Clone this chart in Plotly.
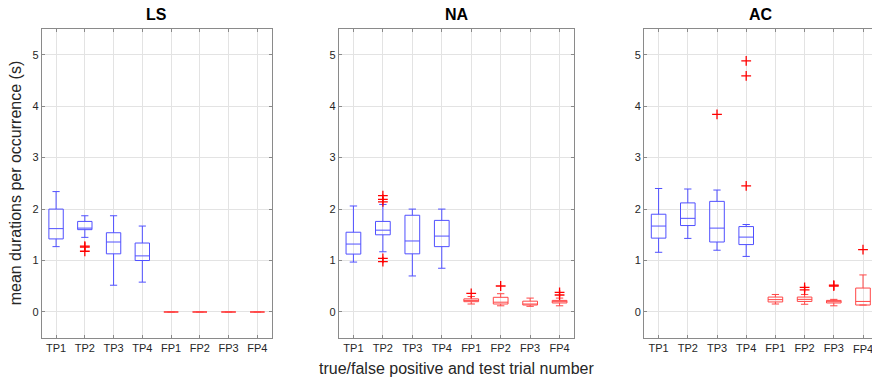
import plotly.graph_objects as go

CATEGORIES = ["TP1", "TP2", "TP3", "TP4", "FP1", "FP2", "FP3", "FP4"]
POSITIONS = [1, 2, 3, 4, 5, 6, 7, 8]
PANELS = ["LS", "NA", "AC"]

# LS panel statistics
LS_LOWER = [1.27, 1.45, 0.52, 0.58, 0.0, 0.0, 0.0, 0.0]
LS_Q1 = [1.42, 1.60, 1.13, 1.00, 0.0, 0.0, 0.0, 0.0]
LS_MEDIAN = [1.62, 1.63, 1.36, 1.09, 0.0, 0.0, 0.0, 0.0]
LS_Q3 = [2.00, 1.76, 1.54, 1.34, 0.0, 0.0, 0.0, 0.0]
LS_UPPER = [2.34, 1.87, 1.87, 1.67, 0.0, 0.0, 0.0, 0.0]
LS_OUT_X = ["TP2", "TP2", "TP2"]
LS_OUT_Y = [1.28, 1.26, 1.18]

# NA panel statistics
NA_LOWER = [0.97, 1.17, 0.70, 0.85, 0.155, 0.12, 0.11, 0.12]
NA_Q1 = [1.125, 1.50, 1.13, 1.27, 0.20, 0.155, 0.135, 0.175]
NA_MEDIAN = [1.32, 1.59, 1.38, 1.475, 0.225, 0.19, 0.15, 0.20]
NA_Q3 = [1.55, 1.76, 1.88, 1.78, 0.255, 0.285, 0.21, 0.225]
NA_UPPER = [2.06, 2.09, 2.00, 2.00, 0.30, 0.355, 0.27, 0.27]
NA_OUT_X = ["TP2", "TP2", "TP2", "TP2", "TP2", "FP1", "FP2", "FP4", "FP4"]
NA_OUT_Y = [2.26, 2.19, 2.14, 1.04, 0.98, 0.36, 0.505, 0.38, 0.33]

# AC panel statistics
AC_LOWER = [1.16, 1.43, 1.20, 1.08, 0.155, 0.15, 0.12, 0.135]
AC_Q1 = [1.435, 1.68, 1.36, 1.31, 0.195, 0.205, 0.175, 0.135]
AC_MEDIAN = [1.67, 1.82, 1.63, 1.455, 0.24, 0.245, 0.20, 0.205]
AC_Q3 = [1.90, 2.12, 2.15, 1.66, 0.29, 0.29, 0.225, 0.465]
AC_UPPER = [2.40, 2.39, 2.37, 1.70, 0.34, 0.34, 0.245, 0.72]
AC_OUT_X = ["TP3", "TP4", "TP4", "TP4", "FP2", "FP2", "FP3", "FP3", "FP4"]
AC_OUT_Y = [3.84, 4.88, 4.59, 2.45, 0.48, 0.43, 0.52, 0.505, 1.21]

Y_TICKS = [0, 1, 2, 3, 4, 5]
TITLE_Y = "mean durations per occurrence (s)"
TITLE_X = "true/false positive and test trial number"

stats = {
    "LS": (LS_LOWER, LS_Q1, LS_MEDIAN, LS_Q3, LS_UPPER, LS_OUT_X, LS_OUT_Y),
    "NA": (NA_LOWER, NA_Q1, NA_MEDIAN, NA_Q3, NA_UPPER, NA_OUT_X, NA_OUT_Y),
    "AC": (AC_LOWER, AC_Q1, AC_MEDIAN, AC_Q3, AC_UPPER, AC_OUT_X, AC_OUT_Y),
}

# The original figure is wider than the 872 px crop: the AC panel runs past the edge.
W, H = 880, 380
BLUE = "rgb(80,80,255)"
RED = "rgb(255,70,70)"
OUT_RED = "rgb(255,0,0)"
AXIS_COL = "#8a8a8a"
GRID_COL = "#e3e3e3"
TEXT_COL = "#262626"
FONT = "Liberation Sans, Arial, Helvetica, sans-serif"

# panel pixel geometry (left, right)
panel_px = [(41.7, 271.7), (338.7, 574.3), (644.0, 877.6)]
top_px, bot_px = 29.0, 337.7

fig = go.Figure()
layout = dict(
    width=W, height=H,
    margin=dict(l=0, r=0, t=0, b=0),
    paper_bgcolor="white", plot_bgcolor="white",
    showlegend=False,
    font=dict(family=FONT, color=TEXT_COL, size=11),
    boxmode="overlay",
)
annotations = []

for i, name in enumerate(PANELS):
    lo, q1, med, q3, up, ox, oy = stats[name]
    xa = "x" if i == 0 else f"x{i+1}"
    ya = "y" if i == 0 else f"y{i+1}"
    for sl, col in ((slice(0, 4), BLUE), (slice(4, 8), RED)):
        fig.add_trace(go.Box(
            x=POSITIONS[sl], q1=q1[sl], median=med[sl], q3=q3[sl],
            lowerfence=lo[sl], upperfence=up[sl],
            boxpoints=False, width=0.5, whiskerwidth=0.5,
            line=dict(color=col, width=1), fillcolor="rgba(0,0,0,0)",
            xaxis=xa, yaxis=ya, hoverinfo="skip",
        ))
    fig.add_trace(go.Scatter(
        x=[POSITIONS[CATEGORIES.index(c)] for c in ox], y=oy, mode="markers",
        marker=dict(symbol="cross-thin", size=7, line=dict(color=OUT_RED, width=1.3)),
        xaxis=xa, yaxis=ya, hoverinfo="skip",
    ))
    l, r = panel_px[i]
    xkey = "xaxis" if i == 0 else f"xaxis{i+1}"
    ykey = "yaxis" if i == 0 else f"yaxis{i+1}"
    # the AC panel's last label sits at the page edge; it is placed as an annotation below
    ticktext = CATEGORIES if i < 2 else CATEGORIES[:-1] + [""]
    layout[xkey] = dict(
        domain=[l / W, r / W], range=[0.5, 8.5], anchor=ya,
        tickvals=POSITIONS, ticktext=ticktext, ticklabeloverflow="allow",
        showgrid=True, gridcolor=GRID_COL, gridwidth=1,
        showline=True, linecolor=AXIS_COL, linewidth=1, mirror="ticks",
        ticks="inside", ticklen=3, tickcolor=AXIS_COL,
        tickfont=dict(size=11, color=TEXT_COL), zeroline=False, fixedrange=True,
    )
    layout[ykey] = dict(
        domain=[1 - bot_px / H, 1 - top_px / H], range=[-0.5, 5.5], anchor=xa,
        tickvals=Y_TICKS,
        showgrid=True, gridcolor=GRID_COL, gridwidth=1,
        showline=True, linecolor=AXIS_COL, linewidth=1, mirror="ticks",
        ticks="inside", ticklen=3, tickcolor=AXIS_COL,
        tickfont=dict(size=11, color=TEXT_COL), zeroline=False, fixedrange=True,
    )
    annotations.append(dict(
        text=f"<b>{name}</b>", x=((l + r) / 2) / W, y=1 - 14 / H,
        xref="paper", yref="paper", xanchor="center", yanchor="middle",
        showarrow=False, font=dict(size=16, color="black", family=FONT),
    ))

annotations.append(dict(
    text=CATEGORIES[-1], x=POSITIONS[-1], xref="x3", y=1 - 349 / H, yref="paper",
    xanchor="center", yanchor="middle", showarrow=False,
    font=dict(size=11, color=TEXT_COL, family=FONT),
))
annotations.append(dict(
    text=TITLE_Y, x=15 / W, y=1 - ((top_px + bot_px) / 2) / H, xref="paper", yref="paper",
    xanchor="center", yanchor="middle", textangle=-90, showarrow=False,
    font=dict(size=16, color=TEXT_COL, family=FONT),
))
annotations.append(dict(
    text=TITLE_X, x=456.5 / W, y=1 - 368 / H, xref="paper", yref="paper",
    xanchor="center", yanchor="middle", showarrow=False,
    font=dict(size=16, color=TEXT_COL, family=FONT),
))
layout["annotations"] = annotations
fig.update_layout(**layout)
fig.write_html(
    "out.html",
    config={"displayModeBar": False, "staticPlot": True},
    post_script="document.body.style.margin='0';document.body.style.padding='0';"
                "document.body.style.overflow='hidden';",
)
